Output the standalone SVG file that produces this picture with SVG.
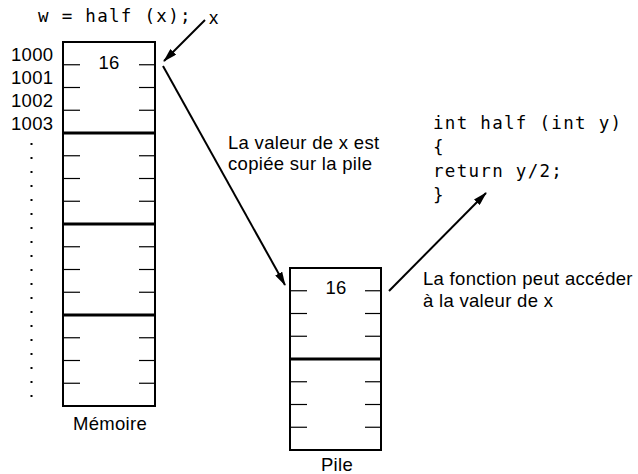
<svg xmlns="http://www.w3.org/2000/svg" width="638" height="474" viewBox="0 0 638 474">
<style>
.box{fill:none;stroke:#000;stroke-width:2}
.div{stroke:#000;stroke-width:3}
.tick{stroke:#000;stroke-width:1.2}
.sans{font-family:"Liberation Sans",Arial,sans-serif;font-size:18.5px;letter-spacing:0.3px;fill:#000}
.mono{font-family:"DejaVu Sans Mono",monospace;font-size:17.5px;letter-spacing:1.3px;fill:#000}
.conn{stroke:#000;stroke-width:2;fill:none;marker-end:url(#ah)}
.dot{fill:#000}
</style>
<defs>
<marker id="ah" viewBox="0 0 14 8" refX="13" refY="4" markerWidth="14" markerHeight="8" markerUnits="userSpaceOnUse" orient="auto">
<path d="M0,0 L14,4 L0,8 Z" fill="#000"/>
</marker>
</defs>
<rect width="638" height="474" fill="#fff"/>

<g id="call">
<text class="mono" x="38" y="22">w = half (x);</text>
<text class="sans" x="209" y="24">x</text>
</g>

<g id="addresses">
<text class="sans" x="11" y="61">1000</text>
<text class="sans" x="11" y="84">1001</text>
<text class="sans" x="11" y="107">1002</text>
<text class="sans" x="11" y="130">1003</text>
<rect class="dot" x="30.5" y="143" width="2" height="2"/>
<rect class="dot" x="30.5" y="157" width="2" height="2"/>
<rect class="dot" x="30.5" y="171" width="2" height="2"/>
<rect class="dot" x="30.5" y="185" width="2" height="2"/>
<rect class="dot" x="30.5" y="199" width="2" height="2"/>
<rect class="dot" x="30.5" y="213" width="2" height="2"/>
<rect class="dot" x="30.5" y="227" width="2" height="2"/>
<rect class="dot" x="30.5" y="241" width="2" height="2"/>
<rect class="dot" x="30.5" y="255" width="2" height="2"/>
<rect class="dot" x="30.5" y="269" width="2" height="2"/>
<rect class="dot" x="30.5" y="283" width="2" height="2"/>
<rect class="dot" x="30.5" y="297" width="2" height="2"/>
<rect class="dot" x="30.5" y="311" width="2" height="2"/>
<rect class="dot" x="30.5" y="325" width="2" height="2"/>
<rect class="dot" x="30.5" y="339" width="2" height="2"/>
<rect class="dot" x="30.5" y="353" width="2" height="2"/>
<rect class="dot" x="30.5" y="367" width="2" height="2"/>
<rect class="dot" x="30.5" y="381" width="2" height="2"/>
<rect class="dot" x="30.5" y="395" width="2" height="2"/>
</g>

<g id="memoire">
<rect class="box" x="63" y="42" width="92" height="364"/>
<line class="div" x1="63" y1="133" x2="155" y2="133"/>
<line class="div" x1="63" y1="224" x2="155" y2="224"/>
<line class="div" x1="63" y1="315" x2="155" y2="315"/>
<g class="tick">
<line x1="63" y1="64.75" x2="80" y2="64.75"/><line x1="139" y1="64.75" x2="155" y2="64.75"/>
<line x1="63" y1="87.5" x2="80" y2="87.5"/><line x1="139" y1="87.5" x2="155" y2="87.5"/>
<line x1="63" y1="110.25" x2="80" y2="110.25"/><line x1="139" y1="110.25" x2="155" y2="110.25"/>
<line x1="63" y1="155.75" x2="80" y2="155.75"/><line x1="139" y1="155.75" x2="155" y2="155.75"/>
<line x1="63" y1="178.5" x2="80" y2="178.5"/><line x1="139" y1="178.5" x2="155" y2="178.5"/>
<line x1="63" y1="201.25" x2="80" y2="201.25"/><line x1="139" y1="201.25" x2="155" y2="201.25"/>
<line x1="63" y1="246.75" x2="80" y2="246.75"/><line x1="139" y1="246.75" x2="155" y2="246.75"/>
<line x1="63" y1="269.5" x2="80" y2="269.5"/><line x1="139" y1="269.5" x2="155" y2="269.5"/>
<line x1="63" y1="292.25" x2="80" y2="292.25"/><line x1="139" y1="292.25" x2="155" y2="292.25"/>
<line x1="63" y1="337.75" x2="80" y2="337.75"/><line x1="139" y1="337.75" x2="155" y2="337.75"/>
<line x1="63" y1="360.5" x2="80" y2="360.5"/><line x1="139" y1="360.5" x2="155" y2="360.5"/>
<line x1="63" y1="383.25" x2="80" y2="383.25"/><line x1="139" y1="383.25" x2="155" y2="383.25"/>
</g>
<text class="sans" x="109" y="69" text-anchor="middle">16</text>
<text class="sans" x="110" y="430" text-anchor="middle">Mémoire</text>
</g>

<g id="pile">
<rect class="box" x="290" y="268" width="91" height="182"/>
<line class="div" x1="290" y1="359" x2="381" y2="359"/>
<g class="tick">
<line x1="290" y1="290.75" x2="307" y2="290.75"/><line x1="365" y1="290.75" x2="381" y2="290.75"/>
<line x1="290" y1="313.5" x2="307" y2="313.5"/><line x1="365" y1="313.5" x2="381" y2="313.5"/>
<line x1="290" y1="336.25" x2="307" y2="336.25"/><line x1="365" y1="336.25" x2="381" y2="336.25"/>
<line x1="290" y1="381.75" x2="307" y2="381.75"/><line x1="365" y1="381.75" x2="381" y2="381.75"/>
<line x1="290" y1="404.5" x2="307" y2="404.5"/><line x1="365" y1="404.5" x2="381" y2="404.5"/>
<line x1="290" y1="427.25" x2="307" y2="427.25"/><line x1="365" y1="427.25" x2="381" y2="427.25"/>
</g>
<text class="sans" x="336" y="294" text-anchor="middle">16</text>
<text class="sans" x="337" y="471" text-anchor="middle">Pile</text>
</g>

<g id="code">
<text class="mono" x="433" y="129">int half (int y)</text>
<text class="mono" x="433" y="153">{</text>
<text class="mono" x="433" y="177">return y/2;</text>
<text class="mono" x="433" y="201">}</text>
</g>

<g id="labels">
<text class="sans" x="228" y="149">La valeur de x est</text>
<text class="sans" x="228" y="170">copiée sur la pile</text>
<text class="sans" x="423" y="285">La fonction peut accéder</text>
<text class="sans" x="423" y="307">à la valeur de x</text>
</g>

<g id="connectors">
<line class="conn" x1="205" y1="20" x2="164" y2="61"/>
<line class="conn" x1="163" y1="66" x2="285" y2="285"/>
<line class="conn" x1="389" y1="291" x2="486" y2="193"/>
</g>
</svg>
